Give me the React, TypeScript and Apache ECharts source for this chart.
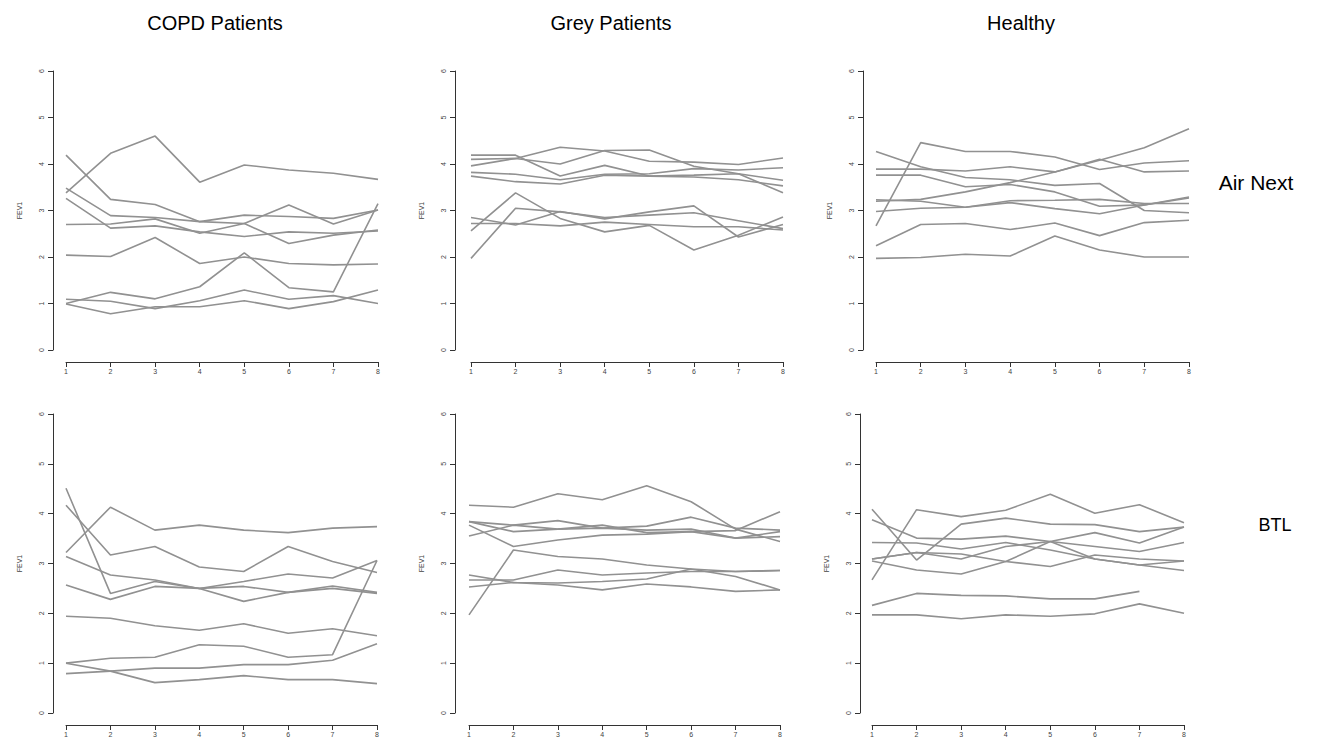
import React, { useEffect, useRef } from "react";
import * as echarts from "echarts";

// ---- data ----
const xLabels = ["1", "2", "3", "4", "5", "6", "7", "8"];
const colTitles = ["COPD Patients", "Grey Patients", "Healthy"];
const rowTitles = ["Air Next", "BTL"];
const yName = "FEV1";

const copdAirNext: (number | null)[][] = [
  [4.19, 3.24, 3.13, 2.76, 2.72, 3.12, 2.71, 3.01],
  [3.48, 2.89, 2.85, 2.76, 2.9, 2.87, 2.83, 3.01],
  [3.26, 2.62, 2.67, 2.54, 2.44, 2.54, 2.51, 2.56],
  [2.7, 2.71, 2.82, 2.51, 2.72, 2.29, 2.47, 2.58],
  [3.38, 4.23, 4.6, 3.61, 3.98, 3.87, 3.8, 3.67],
  [2.04, 2.01, 2.42, 1.86, 2.0, 1.86, 1.83, 1.85],
  [1.0, 1.24, 1.1, 1.36, 2.09, 1.34, 1.25, 3.15],
  [1.09, 1.05, 0.89, 1.06, 1.29, 1.09, 1.17, 1.0],
  [0.99, 0.78, 0.93, 0.93, 1.06, 0.89, 1.04, 1.29],
];

const greyAirNext: (number | null)[][] = [
  [3.96, 4.12, 4.36, 4.28, 4.06, 4.04, 3.99, 4.13],
  [4.1, 4.12, 4.0, 4.29, 4.3, 3.95, 3.79, 3.38],
  [4.19, 4.19, 3.74, 3.97, 3.74, 3.76, 3.79, 3.65],
  [3.82, 3.78, 3.66, 3.78, 3.79, 3.9, 3.87, 3.92],
  [3.74, 3.62, 3.57, 3.76, 3.74, 3.72, 3.66, 3.53],
  [1.97, 3.05, 2.97, 2.85, 2.9, 2.95, 2.78, 2.61],
  [2.56, 3.38, 2.83, 2.54, 2.68, 2.15, 2.47, 2.86],
  [2.85, 2.69, 2.98, 2.82, 2.97, 3.1, 2.43, 2.7],
  [2.72, 2.72, 2.67, 2.75, 2.7, 2.65, 2.65, 2.58],
];

const healthyAirNext: (number | null)[][] = [
  [2.67, 4.46, 4.27, 4.27, 4.15, 3.88, 4.02, 4.07],
  [3.2, 3.24, 3.4, 3.6, 3.83, 4.08, 4.35, 4.76],
  [3.89, 3.89, 3.85, 3.94, 3.83, 4.1, 3.83, 3.85],
  [4.27, 3.94, 3.71, 3.66, 3.54, 3.58, 3.0, 2.95],
  [3.76, 3.76, 3.51, 3.56, 3.4, 3.09, 3.12, 3.27],
  [3.23, 3.2, 3.07, 3.21, 3.22, 3.24, 3.15, 3.15],
  [2.98, 3.05, 3.07, 3.17, 3.04, 2.93, 3.12, 3.29],
  [2.24, 2.7, 2.72, 2.59, 2.73, 2.46, 2.74, 2.79],
  [1.97, 1.99, 2.06, 2.02, 2.45, 2.15, 2.0, 2.0],
];

const copdBTL: (number | null)[][] = [
  [4.51, 2.4, 2.64, 2.5, 2.64, 2.79, 2.71, 3.06],
  [4.17, 3.17, 3.34, 2.93, 2.84, 3.34, 3.04, 2.82],
  [3.22, 4.13, 3.67, 3.77, 3.67, 3.62, 3.71, 3.74],
  [3.14, 2.77, 2.67, 2.5, 2.24, 2.42, 2.55, 2.42],
  [2.57, 2.28, 2.54, 2.5, 2.54, 2.42, 2.5, 2.4],
  [1.94, 1.9, 1.75, 1.66, 1.79, 1.6, 1.69, 1.55],
  [1.0, 1.1, 1.12, 1.37, 1.34, 1.12, 1.17, 3.06],
  [1.0, 0.84, 0.61, 0.67, 0.75, 0.67, 0.67, 0.59],
  [0.79, 0.84, 0.9, 0.9, 0.97, 0.97, 1.06, 1.39],
];

const greyBTL: (number | null)[][] = [
  [4.17, 4.13, 4.4, 4.28, 4.56, 4.24, 3.69, 3.44],
  [3.84, 3.77, 3.86, 3.71, 3.75, 3.93, 3.71, 3.67],
  [3.84, 3.64, 3.69, 3.77, 3.62, 3.64, 3.66, 4.04],
  [3.77, 3.34, 3.47, 3.57, 3.59, 3.64, 3.51, 3.54],
  [3.55, 3.77, 3.69, 3.71, 3.67, 3.69, 3.51, 3.64],
  [1.97, 3.27, 3.14, 3.09, 2.97, 2.89, 2.84, 2.86],
  [2.77, 2.62, 2.61, 2.64, 2.69, 2.89, 2.74, 2.47],
  [2.67, 2.67, 2.87, 2.77, 2.81, 2.84, 2.84, 2.86],
  [2.53, 2.62, 2.57, 2.47, 2.59, 2.53, 2.44, 2.47],
];

const healthyBTL: (number | null)[][] = [
  [4.09, 3.07, 3.79, 3.91, 3.79, 3.78, 3.64, 3.73],
  [2.67, 4.08, 3.94, 4.07, 4.39, 4.01, 4.18, 3.82],
  [3.88, 3.51, 3.49, 3.55, 3.44, 3.34, 3.24, 3.42],
  [3.42, 3.41, 3.29, 3.42, 3.27, 3.09, 2.97, 2.86],
  [3.09, 3.22, 3.19, 3.04, 2.94, 3.17, 3.09, 3.05],
  [3.09, 3.22, 3.09, 3.34, 3.44, 3.62, 3.41, 3.73],
  [3.05, 2.87, 2.79, 3.04, 3.44, 3.09, 2.97, 3.05],
  [2.16, 2.4, 2.36, 2.35, 2.29, 2.29, 2.44, null],
  [1.97, 1.97, 1.89, 1.97, 1.94, 1.99, 2.19, 2.0],
];

const panels = [copdAirNext, greyAirNext, healthyAirNext, copdBTL, greyBTL, healthyBTL];

// ---- layout (pixel geometry of each plot region) ----
const gridBoxes = [
  { left: 66, top: 71, width: 312, height: 279, yOff: 13 },
  { left: 471, top: 71, width: 312, height: 279, yOff: 16 },
  { left: 876, top: 71, width: 313, height: 279, yOff: 13 },
  { left: 66, top: 414, width: 311, height: 299, yOff: 13 },
  { left: 469, top: 414, width: 311, height: 299, yOff: 14 },
  { left: 872, top: 414, width: 312, height: 299, yOff: 12 },
];
const colCenters = [215, 611, 1021];
const rowLabelPos = [
  { x: 1256, y: 182, size: 21 },
  { x: 1275, y: 525, size: 18 },
];

export default function App() {
  const ref = useRef<HTMLDivElement>(null);
  useEffect(() => {
    if (!ref.current) return;
    const chart = echarts.init(ref.current, null, { renderer: "svg" });
    const axisColor = "#333";
    const labelColor = "#444";
    const grid = gridBoxes.map((g) => ({
      left: g.left,
      top: g.top,
      width: g.width,
      height: g.height,
      containLabel: false,
    }));
    const xAxis = gridBoxes.map((g, i) => ({
      type: "category",
      gridIndex: i,
      data: xLabels,
      boundaryGap: false,
      offset: 12,
      axisLine: { show: true, onZero: false, lineStyle: { color: axisColor, width: 1 } },
      axisTick: { show: true, length: 5, lineStyle: { color: axisColor } },
      axisLabel: { fontSize: 7, color: labelColor, margin: 6, fontFamily: "Liberation Sans" },
      splitLine: { show: false },
    }));
    const yAxis = gridBoxes.map((g, i) => ({
      type: "value",
      gridIndex: i,
      min: 0,
      max: 6,
      interval: 1,
      offset: g.yOff,
      name: yName,
      nameLocation: "middle",
      nameRotate: 90,
      nameGap: 30,
      nameTextStyle: { fontSize: 7, color: labelColor, fontFamily: "Liberation Sans" },
      axisLine: { show: true, onZero: false, lineStyle: { color: axisColor, width: 1 } },
      axisTick: { show: true, length: 5, lineStyle: { color: axisColor } },
      axisLabel: { fontSize: 7, color: labelColor, margin: 8, rotate: 90, fontFamily: "Liberation Sans" },
      splitLine: { show: false },
    }));
    const series: any[] = [];
    panels.forEach((lines, p) => {
      lines.forEach((vals) => {
        series.push({
          type: "line",
          xAxisIndex: p,
          yAxisIndex: p,
          data: vals,
          symbol: "none",
          connectNulls: false,
          lineStyle: { color: "#919191", width: 1.6 },
          silent: true,
        });
      });
    });
    const graphic: any[] = [];
    colTitles.forEach((t, i) => {
      graphic.push({
        type: "text",
        x: colCenters[i],
        y: 23,
        style: {
          text: t,
          fontSize: 20,
          fontFamily: "Liberation Sans",
          fill: "#000",
          textAlign: "center",
          textVerticalAlign: "middle",
        },
      });
    });
    rowTitles.forEach((t, i) => {
      graphic.push({
        type: "text",
        x: rowLabelPos[i].x,
        y: rowLabelPos[i].y,
        style: {
          text: t,
          fontSize: rowLabelPos[i].size,
          fontFamily: "Liberation Sans",
          fill: "#000",
          textAlign: "center",
          textVerticalAlign: "middle",
        },
      });
    });
    chart.setOption({
      animation: false,
      backgroundColor: "#fff",
      grid,
      xAxis,
      yAxis,
      series,
      graphic,
    });
    return () => chart.dispose();
  }, []);
  return (
    <div
      ref={ref}
      style={{ position: "absolute", left: 0, top: 0, width: 1332, height: 746 }}
    />
  );
}
